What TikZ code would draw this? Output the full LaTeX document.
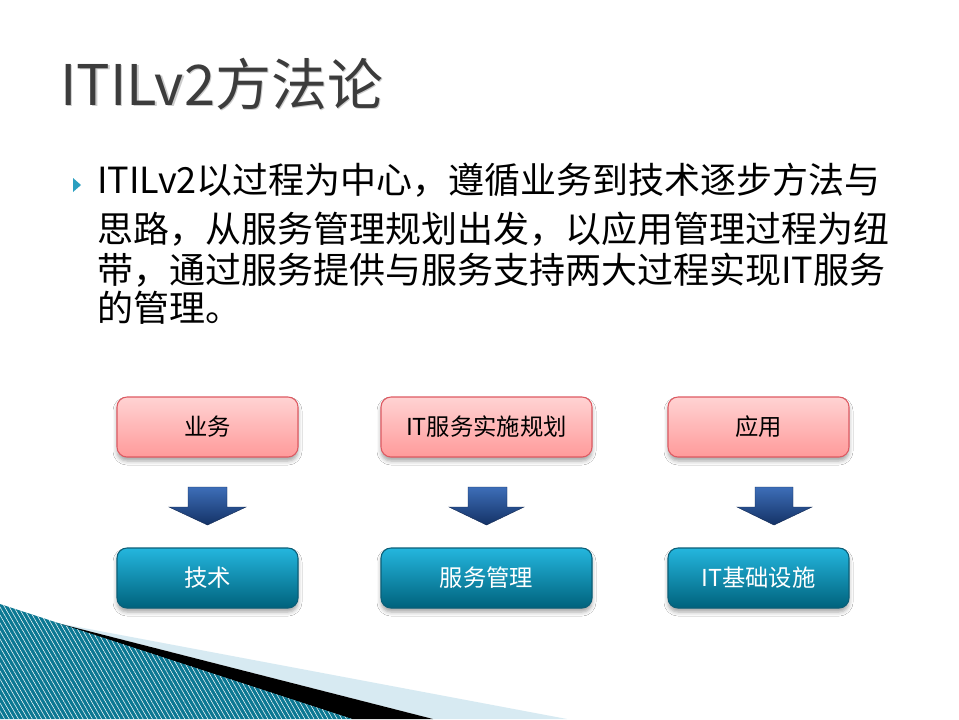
\documentclass[tikz,border=0pt]{standalone}
\usepackage{fontspec}
\setmainfont{Noto Sans CJK SC}
\usetikzlibrary{shadows.blur,patterns.meta}
\definecolor{titlegray}{HTML}{3C3C3C}
\definecolor{bulletcol}{HTML}{2A9FC0}
\definecolor{pinktop}{HTML}{FFD3D3}
\definecolor{pinkbot}{HTML}{FF9A9A}
\definecolor{pinkborder}{HTML}{DE5A62}
\definecolor{tealtop}{HTML}{24B6DE}
\definecolor{tealbot}{HTML}{00627C}
\definecolor{tealborder}{HTML}{0B5F78}
\definecolor{arrtop}{HTML}{3D6EB8}
\definecolor{arrbot}{HTML}{143266}
\definecolor{lightband}{HTML}{D7EAF2}
\definecolor{decodark}{HTML}{0C7893}
\definecolor{decolight}{HTML}{52BCDC}
\tikzset{
  boxbase/.style={rounded corners=7.5pt, line width=0.8pt, minimum height=45pt,
    font=\fontsize{17.5}{20}\selectfont,
    blur shadow={shadow xshift=0pt, shadow yshift=-3pt, shadow blur radius=3pt, shadow opacity=35}},
  pinkbox/.style={boxbase, draw=pinkborder, top color=pinktop, bottom color=pinkbot, text=black},
  tealbox/.style={boxbase, draw=tealborder, top color=tealtop, bottom color=tealbot, text=white},
  blockarrow/.style={top color=arrtop, bottom color=arrbot, draw=arrbot!80!black, line width=0.3pt},
  bodyline/.style={anchor=base west, inner sep=0pt, font=\fontsize{27}{32}\selectfont, text=black},
  titletext/.style={anchor=base west, inner sep=0pt, font=\fontsize{42}{50}\selectfont}
}
\begin{document}
\begin{tikzpicture}[x=0.75pt,y=-0.75pt]
\useasboundingbox (0,0) rectangle (959,719);
\fill[white] (0,0) rectangle (959,719);

% bottom-left decoration
\fill[lightband] (57,623) -- (567,719) -- (433,719) -- cycle;
\fill[black] (57,623) -- (433,719) -- (352,719) -- cycle;
\shade[left color=decodark, middle color=decolight, right color=decodark] (0,604) -- (352,719) -- (0,719) -- cycle;
\pattern[pattern={Lines[angle=-60,distance=3pt,line width=0.4pt]}, pattern color=white, fill opacity=0.06] (0,604) -- (352,719) -- (0,719) -- cycle;

% title
\node[titletext, text=gray!40] at (61.5,106.5) {ITILv2方法论};
\node[titletext, text=titlegray] (title) at (60,105) {ITILv2方法论};

% bullet and body text
\fill[bulletcol] (73,178) -- (81,185) -- (73,192) -- cycle;
\node[bodyline] (l1) at (97,193) {ITILv2以过程为中心，遵循业务到技术逐步方法与};
\node[bodyline] (l2) at (97,242) {思路，从服务管理规划出发，以应用管理过程为纽};
\node[bodyline] (l3) at (97,283) {带，通过服务提供与服务支持两大过程实现IT服务};
\node[bodyline] (l4) at (97,321) {的管理。};

% boxes
\node[pinkbox, minimum width=135.75pt] (p1) at (207.5,427) {业务};
\node[pinkbox, minimum width=158.25pt] (p2) at (486.5,427) {IT服务实施规划};
\node[pinkbox, minimum width=135.75pt] (p3) at (758.5,427) {应用};
\node[tealbox, minimum width=135.75pt] (t1) at (207.5,578) {技术};
\node[tealbox, minimum width=158.25pt] (t2) at (486.5,578) {服务管理};
\node[tealbox, minimum width=135.75pt] (t3) at (758.5,578) {IT基础设施};

% block arrows
\path[blockarrow] (188,487) -- (227,487) -- (227,507) -- (246,507) -- (207.5,525) -- (169,507) -- (188,507) -- cycle;
\path[blockarrow] (468,487) -- (507,487) -- (507,507) -- (524,507) -- (486.5,525) -- (449,507) -- (468,507) -- cycle;
\path[blockarrow] (755,487) -- (793,487) -- (793,507) -- (812,507) -- (774,525) -- (737,507) -- (755,507) -- cycle;
\end{tikzpicture}
\end{document}
